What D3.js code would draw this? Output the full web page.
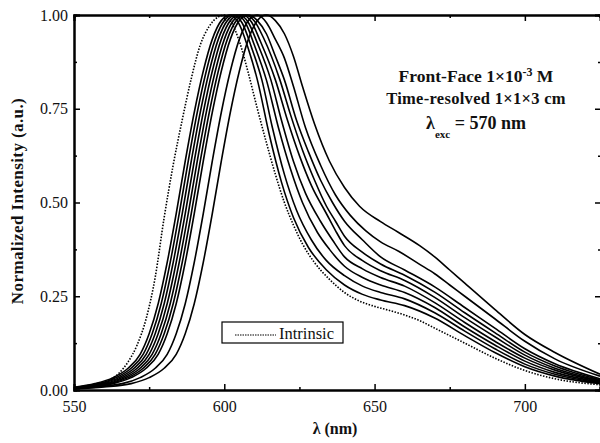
<!DOCTYPE html>
<html>
<head>
<meta charset="UTF-8" />
<script src="https://d3js.org/d3.v7.min.js"></script>
<style>
  body { margin: 0; background: #fff; }
  svg { display: block; }
  .bold { font-weight: bold; fill: #111; }
</style>
</head>
<body>
<svg width="600" height="443"></svg>
<script>
// [wavelength nm, normalized intensity]
const intrinsic = [[550,0.004],[555,0.008],[560,0.02],[565,0.045],[568,0.075],[571,0.12],[574,0.19],[577,0.3],[580,0.46],[583,0.6],[586,0.72],[589,0.83],[592,0.92],[595,0.97],[598,0.995],[600,1.0],[602,0.985],[605,0.93],[608,0.845],[611,0.75],[614,0.66],[617,0.575],[620,0.5],[623,0.44],[626,0.39],[630,0.34],[635,0.295],[640,0.26],[645,0.237],[650,0.223],[655,0.212],[660,0.2],[665,0.185],[670,0.165],[675,0.145],[680,0.125],[690,0.085],[700,0.052],[710,0.03],[725,0.014]];

const spec1 = [[550,0.007],[557,0.017],[563,0.033],[568,0.058],[572,0.095],[575,0.15],[578,0.23],[581,0.34],[584,0.47],[587,0.61],[590,0.74],[593,0.85],[596,0.935],[599,0.985],[602,1.0],[605,0.975],[608,0.91],[611,0.827],[615,0.68],[619,0.555],[623,0.46],[628,0.38],[634,0.32],[640,0.28],[646,0.255],[652,0.24],[660,0.225],[670,0.192],[680,0.145],[690,0.1],[700,0.062],[710,0.037],[725,0.017]];
const spec2 = [[550,0.006],[558,0.017],[564,0.033],[569,0.058],[573,0.095],[576,0.15],[579,0.23],[582,0.34],[585,0.47],[588,0.61],[591,0.74],[594,0.85],[597,0.935],[600,0.985],[603,1.0],[606,0.978],[609,0.915],[612.5,0.827],[616,0.7],[620,0.575],[624,0.48],[629,0.4],[634,0.345],[640,0.305],[646,0.277],[652,0.26],[660,0.243],[670,0.206],[680,0.157],[690,0.11],[700,0.069],[710,0.042],[725,0.019]];
const spec3 = [[550,0.006],[559,0.017],[565,0.033],[570,0.058],[574,0.095],[577,0.15],[580,0.23],[583,0.34],[586,0.47],[589,0.61],[592,0.74],[595,0.85],[598,0.935],[601,0.985],[604,1.0],[607,0.98],[610,0.92],[614,0.827],[618,0.7],[622,0.59],[626,0.5],[631,0.42],[635,0.375],[640,0.33],[646,0.3],[652,0.28],[660,0.26],[670,0.22],[680,0.168],[690,0.12],[700,0.077],[710,0.047],[725,0.021]];
const spec4 = [[550,0.005],[560,0.017],[566,0.033],[571,0.058],[575,0.095],[578,0.15],[581,0.23],[584,0.34],[587,0.47],[590,0.61],[593,0.74],[596,0.85],[599,0.935],[602,0.985],[605,1.0],[608,0.98],[611,0.925],[615.5,0.827],[619,0.72],[623,0.61],[627,0.525],[632,0.45],[636,0.4],[640,0.355],[646,0.323],[652,0.3],[660,0.277],[670,0.233],[680,0.18],[690,0.13],[700,0.085],[710,0.053],[725,0.023]];
const spec5 = [[550,0.005],[561,0.017],[567,0.033],[572,0.058],[576,0.095],[579,0.15],[582,0.23],[585,0.34],[588,0.47],[591,0.61],[594,0.74],[597,0.85],[600,0.935],[603,0.985],[606,1.0],[609,0.982],[612,0.93],[617,0.827],[621,0.72],[625,0.625],[629,0.545],[634,0.47],[637,0.425],[640,0.385],[646,0.345],[652,0.318],[660,0.292],[670,0.247],[680,0.193],[690,0.142],[700,0.093],[710,0.058],[725,0.025]];
const spec6 = [[550,0.004],[562,0.017],[568,0.033],[573,0.058],[577,0.095],[580,0.15],[583,0.23],[586,0.34],[589,0.47],[592,0.61],[595,0.74],[598,0.85],[601,0.935],[604,0.985],[607,1.0],[610,0.984],[613,0.94],[618.5,0.827],[622,0.735],[626,0.64],[630,0.56],[634,0.49],[637,0.45],[640,0.41],[646,0.367],[652,0.336],[660,0.306],[670,0.261],[680,0.206],[690,0.153],[700,0.101],[710,0.064],[725,0.027]];
const spec7 = [[550,0.004],[563,0.017],[569,0.033],[574,0.058],[578,0.095],[581,0.15],[584,0.23],[587,0.34],[590,0.47],[593,0.61],[596,0.74],[599,0.85],[602,0.935],[605,0.985],[608,1.0],[611,0.985],[614,0.95],[617,0.89],[620,0.827],[624,0.72],[628,0.635],[632,0.56],[636,0.5],[640,0.45],[646,0.4],[652,0.355],[660,0.32],[670,0.275],[680,0.22],[690,0.165],[700,0.11],[710,0.07],[725,0.03]];
const spec8 = [[550,0.004],[566,0.017],[572,0.033],[577,0.058],[581,0.095],[584,0.15],[587,0.23],[590,0.34],[593,0.47],[596,0.61],[599,0.74],[602,0.85],[605,0.935],[608,0.985],[611,1.0],[614,0.98],[617,0.935],[620,0.885],[623,0.81],[627,0.7],[632,0.6],[637,0.52],[642,0.465],[647,0.425],[652,0.395],[658,0.37],[665,0.335],[670,0.31],[675,0.28],[680,0.25],[690,0.19],[700,0.13],[710,0.083],[725,0.037]];
const spec9 = [[550,0.003],[560,0.008],[569,0.017],[575,0.033],[580,0.058],[584,0.095],[587,0.15],[590,0.23],[593,0.34],[596,0.47],[599,0.61],[602,0.74],[605,0.85],[608,0.935],[611,0.985],[614,1.0],[617,0.985],[620,0.95],[623,0.89],[626,0.81],[630,0.71],[635,0.61],[640,0.54],[645,0.49],[652,0.449],[658,0.42],[665,0.385],[670,0.355],[675,0.32],[680,0.285],[690,0.215],[700,0.148],[710,0.1],[725,0.042]];
const timeResolved = [spec1, spec2, spec3, spec4, spec5, spec6, spec7, spec8, spec9];

const xMajor = [550, 600, 650, 700];
const xMinor = [575, 625, 675, 725];
const yMajor = [0, 0.25, 0.5, 0.75, 1.0];
const yMinor = [0.125, 0.375, 0.625, 0.875];

const serif = "Liberation Serif, Times New Roman, serif";
const mLeft = 74, mRight = 600, mTop = 15, mBottom = 390;

const svg = d3.select("svg").attr("font-family", serif);

const x = d3.scaleLinear().domain([550, 725]).range([mLeft, mRight]);
const y = d3.scaleLinear().domain([0, 1]).range([mBottom, mTop]);

svg.append("clipPath").attr("id", "plot")
  .append("rect").attr("x", mLeft).attr("y", mTop - 2).attr("width", mRight - mLeft).attr("height", mBottom - mTop + 2);

const line = d3.line()
  .x(d => x(d[0]))
  .y(d => y(d[1]))
  .curve(d3.curveMonotoneX);

const curves = svg.append("g").attr("clip-path", "url(#plot)");

curves.selectAll("path.spec")
  .data(timeResolved)
  .enter()
  .append("path")
  .attr("class", "spec")
  .attr("d", line)
  .attr("fill", "none")
  .attr("stroke", "#000")
  .attr("stroke-width", 1.6);

curves.append("path")
  .attr("d", line(intrinsic))
  .attr("fill", "none")
  .attr("stroke", "#000")
  .attr("stroke-width", 1.6)
  .attr("stroke-dasharray", "1.5,1.5");

// axes
const fmt = d3.format(".2f");

svg.append("g")
  .attr("transform", `translate(0,${mBottom})`)
  .call(d3.axisBottom(x).tickValues(xMajor).tickSize(-6).tickPadding(11));
svg.append("g")
  .attr("transform", `translate(0,${mBottom})`)
  .call(d3.axisBottom(x).tickValues(xMinor).tickSize(-3).tickFormat(""));

svg.append("g")
  .attr("transform", `translate(0,${mTop})`)
  .call(d3.axisTop(x).tickValues(xMajor).tickSize(-6).tickFormat(""));
svg.append("g")
  .attr("transform", `translate(0,${mTop})`)
  .call(d3.axisTop(x).tickValues(xMinor).tickSize(-3).tickFormat(""));

svg.append("g")
  .attr("transform", `translate(${mLeft},0)`)
  .call(d3.axisLeft(y).tickValues(yMajor).tickSize(-6).tickPadding(6).tickFormat(fmt));
svg.append("g")
  .attr("transform", `translate(${mLeft},0)`)
  .call(d3.axisLeft(y).tickValues(yMinor).tickSize(-3).tickFormat(""));

svg.append("g")
  .attr("transform", `translate(${mRight + 1},0)`)
  .call(d3.axisRight(y).tickValues(yMajor).tickSize(-6).tickFormat(""));
svg.append("g")
  .attr("transform", `translate(${mRight + 1},0)`)
  .call(d3.axisRight(y).tickValues(yMinor).tickSize(-3).tickFormat(""));

svg.selectAll(".domain").attr("stroke", "#000").attr("stroke-width", 2);
svg.selectAll(".tick line").attr("stroke", "#000").attr("stroke-width", 1.5);
svg.selectAll(".tick text")
  .attr("font-family", serif)
  .attr("font-size", 16)
  .attr("fill", "#111");

// axis titles
svg.append("text")
  .attr("class", "bold")
  .attr("x", 335).attr("y", 434)
  .attr("text-anchor", "middle")
  .attr("font-size", 16)
  .text("λ (nm)");

svg.append("text")
  .attr("class", "bold")
  .attr("transform", "translate(23,201) rotate(-90)")
  .attr("text-anchor", "middle")
  .attr("font-size", 17)
  .attr("letter-spacing", 0.4)
  .text("Normalized Intensity (a.u.)");

// annotation
const note = svg.append("g").attr("class", "bold").attr("text-anchor", "middle");
const l1 = note.append("text").attr("x", 476).attr("y", 82).attr("font-size", 17.5);
l1.append("tspan").text("Front-Face 1×10");
l1.append("tspan").attr("font-size", 12).attr("dy", -6).text("-3");
l1.append("tspan").attr("dy", 6).text(" M");

note.append("text").attr("x", 476).attr("y", 104).attr("font-size", 16.5)
  .attr("letter-spacing", 0.3)
  .text("Time-resolved 1×1×3 cm");

const l3 = note.append("text").attr("x", 476).attr("y", 129).attr("font-size", 18);
l3.append("tspan").text("λ");
l3.append("tspan").attr("font-size", 11).attr("dy", 9).text("exc");
l3.append("tspan").attr("dy", -9).text(" = 570 nm");

// legend
const legend = svg.append("g");
legend.append("rect")
  .attr("x", 222).attr("y", 322).attr("width", 121).attr("height", 21)
  .attr("fill", "#fff").attr("stroke", "#000").attr("stroke-width", 1.2);
legend.append("line")
  .attr("x1", 235).attr("x2", 276).attr("y1", 335).attr("y2", 335)
  .attr("stroke", "#000").attr("stroke-width", 1.2).attr("stroke-dasharray", "1.5,1");
legend.append("text")
  .attr("x", 279).attr("y", 339)
  .attr("font-family", serif)
  .attr("font-size", 16.5).attr("fill", "#111")
  .text("Intrinsic");
</script>
</body>
</html>
